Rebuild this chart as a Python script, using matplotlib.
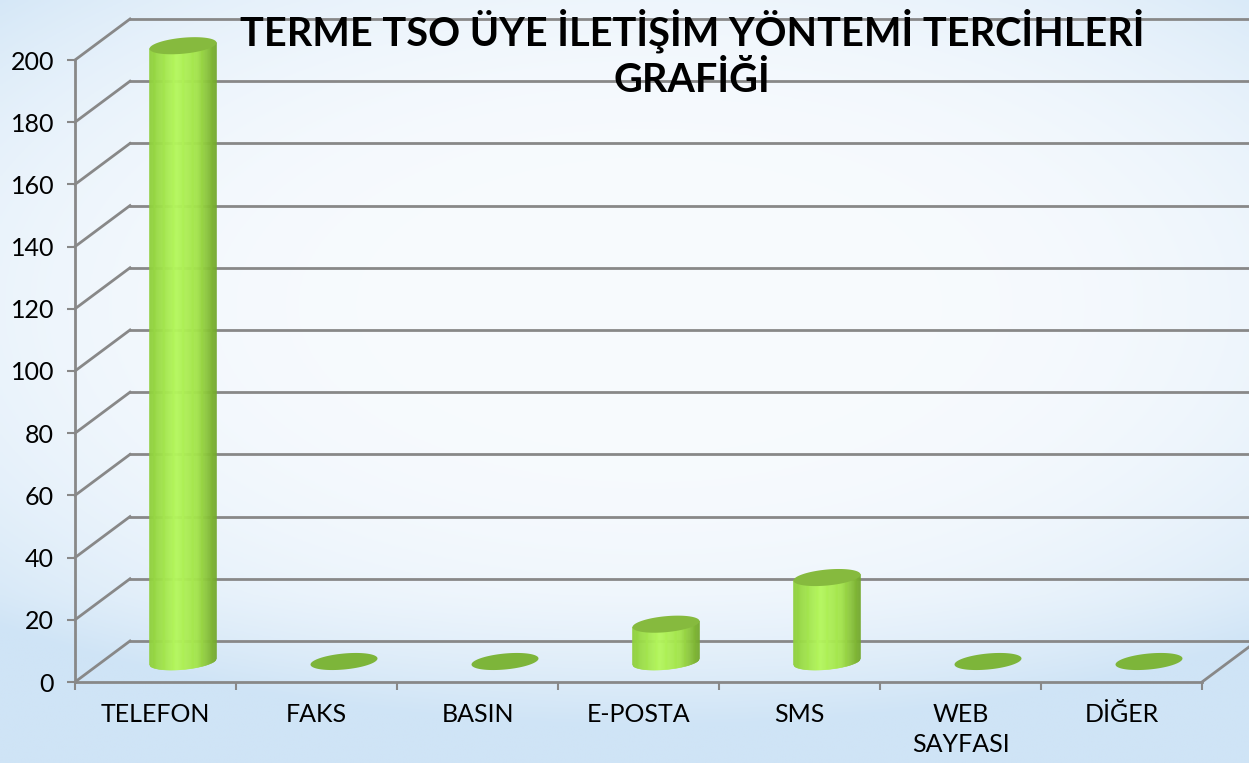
import numpy as np
import matplotlib
matplotlib.use("Agg")
import matplotlib.pyplot as plt
from matplotlib.colors import LinearSegmentedColormap, to_rgb
from matplotlib.patches import Polygon

# ── data ──
categories = ["TELEFON", "FAKS", "BASIN", "E-POSTA", "SMS", "WEB\nSAYFASI", "DİĞER"]
values = [198, 0, 0, 12, 27, 0, 0]
y_ticks = [0, 20, 40, 60, 80, 100, 120, 140, 160, 180, 200]
title = "TERME TSO ÜYE İLETİŞİM YÖNTEMİ TERCİHLERİ\nGRAFİĞİ"

plt.rcParams["font.family"] = ["Lato", "DejaVu Sans"]

W, H, DPI = 1249, 763, 100
GRID = "#888888"
TOP_C = "#86ba3e"
FLAT_C = "#7db53a"
body_cmap = LinearSegmentedColormap.from_list(
    "cyl", [(0.0, "#8fcf3d"), (0.4, "#b4f75c"), (0.72, "#a3e34b"), (1.0, "#74a82e")])

fig = plt.figure(figsize=(W / DPI, H / DPI), dpi=DPI)

# ── background gradient ──
bg = fig.add_axes([0, 0, 1, 1], zorder=-10)
yy, xx = np.mgrid[0:1:300j, 0:1:400j]
w = ((xx - 0.52) / 0.75) ** 2 + ((yy - 0.40) / 0.62) ** 2
w = np.clip(w, 0, 1) ** 1.6
w = np.clip(w + 0.35 * np.clip((yy - 0.78) / 0.2, 0, 1), 0, 1)
light = np.array(to_rgb("#f8fbfe"))
blue = np.array(to_rgb("#cfe4f6"))
img = light[None, None, :] * (1 - w[..., None]) + blue[None, None, :] * w[..., None]
bg.imshow(img, aspect="auto", extent=[0, 1, 1, 0])
bg.axis("off")

# ── main axes: front plane ──
ax = fig.add_axes([75 / W, 1 - 682 / H, (1202 - 75) / W, (682 - 60) / H])
ax.patch.set_alpha(0)
ax.set_xlim(-0.5, 6.5)
ax.set_ylim(0, 200)

# pixel -> data scale
o = ax.transData.transform((0, 0))
pxx = ax.transData.transform((1, 0))[0] - o[0]
pxy = ax.transData.transform((0, 1))[1] - o[1]
DDX, DDY = 55 / pxx, 41 / pxy  # depth vector in data units


def depth(x, y, f):
    return x + f * DDX, y + f * DDY


# back wall + side wall grid
for v in y_ticks:
    bx0, by0 = depth(-0.5, v, 1)
    bx1, by1 = depth(6.5, v, 1)
    ax.plot([bx0, bx1], [by0, by1], color=GRID, lw=2, clip_on=False, zorder=1)
    ax.plot([-0.5, bx0], [v, by0], color=GRID, lw=2, clip_on=False, zorder=1)
fx, fy = depth(6.5, 0, 1)
ax.plot([6.5, fx], [0, fy], color=GRID, lw=2, clip_on=False, zorder=1)

# ── cylinders ──
A_PX, B_PX, TILT = 33.5, 8.0, 0.09


def ellipse_pts(cx, cy, n=80):
    t = np.linspace(0, 2 * np.pi, n)
    dxp = A_PX * np.cos(t)
    dyp = B_PX * np.sin(t) + TILT * dxp
    return np.column_stack([cx + dxp / pxx, cy + dyp / pxy])


for i, v in enumerate(values):
    cx, cy0 = depth(i, 0, 0.5)
    if v <= 0:
        ax.add_patch(Polygon(ellipse_pts(cx, cy0), closed=True, fc=FLAT_C,
                             ec="none", clip_on=False, zorder=3))
        continue
    cyt = cy0 + v
    us = np.linspace(-1, 1, 61)
    for u0, u1 in zip(us[:-1], us[1:]):
        yb0 = cy0 + (-B_PX * np.sqrt(max(0, 1 - u0 ** 2)) + TILT * u0 * A_PX) / pxy
        yb1 = cy0 + (-B_PX * np.sqrt(max(0, 1 - u1 ** 2)) + TILT * u1 * A_PX) / pxy
        yt0 = cyt + TILT * u0 * A_PX / pxy
        yt1 = cyt + TILT * u1 * A_PX / pxy
        x0 = cx + u0 * A_PX / pxx
        x1 = cx + u1 * A_PX / pxx
        c = body_cmap((u0 + u1) / 4 + 0.5)
        ax.add_patch(Polygon([(x0, yb0), (x1, yb1), (x1, yt1), (x0, yt0)],
                             closed=True, fc=c, ec=c, lw=0.4,
                             clip_on=False, zorder=3))
    ax.add_patch(Polygon(ellipse_pts(cx, cyt), closed=True, fc=TOP_C,
                         ec="none", clip_on=False, zorder=4))

# ── axes styling ──
for side in ["top", "right"]:
    ax.spines[side].set_visible(False)
for side in ["left", "bottom"]:
    ax.spines[side].set_color(GRID)
    ax.spines[side].set_linewidth(2)

ax.set_yticks(y_ticks)
ax.tick_params(axis="y", length=6, width=1.5, color=GRID, pad=9,
               labelsize=18, labelcolor="black")
ax.set_xticks(np.arange(-0.5, 7, 1))
ax.set_xticklabels([])
ax.tick_params(axis="x", which="major", length=6, width=1.5, color=GRID)
ax.set_xticks(range(len(categories)), minor=True)
ax.set_xticklabels(categories, minor=True)
ax.tick_params(axis="x", which="minor", length=0, pad=15, labelsize=18,
               labelcolor="black")
for lab in ax.get_xticklabels(minor=True):
    lab.set_linespacing(1.4)

fig.text(692 / W, 1 - 54 / H, title, ha="center", va="center",
         fontsize=28.5, fontweight="bold", color="black", linespacing=1.3,
         zorder=20)

fig.savefig("out.png", dpi=DPI)
